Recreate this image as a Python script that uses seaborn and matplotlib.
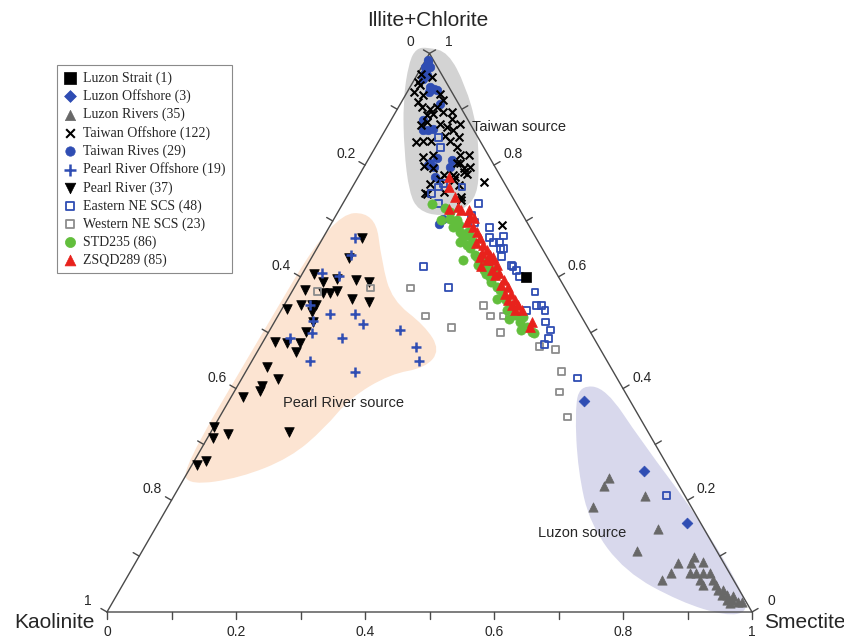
import numpy as np
import matplotlib
matplotlib.use("Agg")
import matplotlib.pyplot as plt
from matplotlib.path import Path
from matplotlib.patches import PathPatch
import seaborn as sns

# clay mineral compositions (fractions)
# s = smectite, ic = illite+chlorite, kaolinite = 1 - s - ic
luzon_strait_s = [0.35]
luzon_strait_ic = [0.60]

luzon_offshore_s = [0.551, 0.707, 0.820]
luzon_offshore_ic = [0.378, 0.252, 0.159]

luzon_rivers_s = [0.659, 0.658, 0.730, 0.660, 0.780, 0.767, 0.841, 0.860, 0.862, 0.879,
                  0.840, 0.831, 0.869, 0.879, 0.889, 0.900, 0.890, 0.910, 0.900, 0.920,
                  0.928, 0.936, 0.938, 0.947, 0.950, 0.958, 0.970, 0.958, 0.956, 0.976]
luzon_rivers_ic = [0.239, 0.225, 0.208, 0.188, 0.148, 0.110, 0.088, 0.099, 0.088, 0.089,
                   0.069, 0.058, 0.069, 0.069, 0.069, 0.069, 0.058, 0.058, 0.048, 0.048,
                   0.039, 0.039, 0.030, 0.030, 0.021, 0.021, 0.018, 0.017, 0.029, 0.018]

taiwan_offshore_s = [0.005, 0.008, 0.014, 0.025, 0.010, 0.028, 0.052, 0.063, 0.026, 0.036,
                     0.050, 0.059, 0.051, 0.060, 0.074, 0.087, 0.093, 0.110, 0.079, 0.093,
                     0.106, 0.097, 0.120, 0.110, 0.059, 0.068, 0.081, 0.052, 0.057, 0.083,
                     0.097, 0.126, 0.139, 0.152, 0.092, 0.141, 0.156, 0.165, 0.150, 0.165,
                     0.117, 0.163, 0.146, 0.178, 0.200, 0.121, 0.109, 0.131, 0.146, 0.159,
                     0.146, 0.118, 0.181, 0.267, 0.151, 0.128]
taiwan_offshore_ic = [0.964, 0.949, 0.943, 0.958, 0.931, 0.925, 0.928, 0.916, 0.913, 0.904,
                      0.901, 0.904, 0.889, 0.892, 0.895, 0.895, 0.883, 0.874, 0.874, 0.868,
                      0.862, 0.853, 0.850, 0.844, 0.841, 0.844, 0.844, 0.871, 0.877, 0.815,
                      0.818, 0.832, 0.818, 0.818, 0.798, 0.803, 0.794, 0.797, 0.779, 0.785,
                      0.767, 0.764, 0.752, 0.743, 0.770, 0.749, 0.794, 0.782, 0.782, 0.788,
                      0.803, 0.750, 0.737, 0.692, 0.773, 0.776]

taiwan_rives_s = [0.004, 0.006, 0.005, 0.013, 0.009, 0.016, 0.031, 0.038, 0.034, 0.044,
                  0.061, 0.050, 0.059, 0.067, 0.073, 0.105, 0.108, 0.130, 0.134, 0.119,
                  0.098, 0.169, 0.168, 0.099, 0.010, 0.012]
taiwan_rives_ic = [0.988, 0.984, 0.976, 0.976, 0.964, 0.961, 0.940, 0.937, 0.931, 0.934,
                   0.910, 0.880, 0.862, 0.862, 0.865, 0.812, 0.797, 0.809, 0.797, 0.779,
                   0.800, 0.703, 0.694, 0.803, 0.970, 0.955]

pearl_offshore_s = [0.049, 0.059, 0.030, 0.059, 0.040, 0.079, 0.117, 0.139, 0.069, 0.039,
                    0.120, 0.201, 0.242, 0.259, 0.090, 0.170, 0.059]
pearl_offshore_ic = [0.670, 0.640, 0.606, 0.601, 0.549, 0.534, 0.534, 0.515, 0.499, 0.490,
                     0.490, 0.505, 0.475, 0.450, 0.450, 0.430, 0.521]

pearl_river_s = [0.060, 0.058, 0.018, 0.039, 0.058, 0.088, 0.110, 0.018, 0.049, 0.060,
                 0.069, 0.099, 0.128, 0.008, 0.027, 0.043, 0.049, 0.050, 0.060, 0.058,
                 0.019, 0.038, 0.059, 0.060, 0.029, 0.057, 0.039, 0.039, 0.019, 0.000,
                 0.008, 0.029, 0.121, 0.019, 0.008]
pearl_river_ic = [0.670, 0.634, 0.605, 0.591, 0.597, 0.595, 0.591, 0.577, 0.571, 0.571,
                  0.574, 0.561, 0.555, 0.542, 0.549, 0.549, 0.550, 0.537, 0.519, 0.501,
                  0.484, 0.481, 0.481, 0.466, 0.439, 0.417, 0.404, 0.396, 0.385, 0.332,
                  0.312, 0.318, 0.323, 0.270, 0.264]

eastern_s = [0.089, 0.101, 0.138, 0.133, 0.170, 0.129, 0.210, 0.148, 0.210, 0.221,
             0.249, 0.258, 0.268, 0.278, 0.278, 0.284, 0.289, 0.294, 0.317, 0.330,
             0.340, 0.181, 0.239, 0.320, 0.377, 0.392, 0.399, 0.409, 0.380, 0.420,
             0.435, 0.439, 0.439, 0.520, 0.763]
eastern_ic = [0.850, 0.831, 0.767, 0.761, 0.761, 0.749, 0.731, 0.731, 0.710, 0.698,
              0.689, 0.671, 0.662, 0.662, 0.673, 0.651, 0.651, 0.636, 0.621, 0.611,
              0.600, 0.619, 0.581, 0.619, 0.573, 0.549, 0.549, 0.540, 0.540, 0.519,
              0.505, 0.490, 0.479, 0.419, 0.208]

western_s = [0.039, 0.119, 0.180, 0.229, 0.309, 0.329, 0.349, 0.280, 0.359, 0.433,
             0.460, 0.490, 0.504, 0.540]
western_ic = [0.574, 0.580, 0.580, 0.530, 0.549, 0.530, 0.530, 0.509, 0.501, 0.475,
              0.470, 0.430, 0.394, 0.349]

std235_s = [0.138, 0.168, 0.180, 0.192, 0.199, 0.207, 0.217, 0.216, 0.238, 0.237,
            0.255, 0.266, 0.280, 0.291, 0.303, 0.192, 0.174, 0.237, 0.278, 0.294,
            0.313, 0.332, 0.352, 0.367, 0.381, 0.396, 0.408, 0.381, 0.412, 0.226,
            0.265, 0.321, 0.340, 0.163, 0.230, 0.350, 0.360, 0.390, 0.325, 0.300,
            0.285, 0.250, 0.220]
std235_ic = [0.731, 0.701, 0.704, 0.689, 0.692, 0.680, 0.671, 0.662, 0.651, 0.662,
             0.636, 0.630, 0.618, 0.612, 0.603, 0.701, 0.716, 0.631, 0.612, 0.600,
             0.582, 0.564, 0.546, 0.531, 0.519, 0.510, 0.501, 0.528, 0.499, 0.674,
             0.621, 0.576, 0.558, 0.723, 0.657, 0.540, 0.525, 0.505, 0.560, 0.590,
             0.605, 0.640, 0.680]

zsqd289_s = [0.140, 0.149, 0.168, 0.170, 0.182, 0.190, 0.201, 0.209, 0.223, 0.233,
             0.244, 0.255, 0.265, 0.260, 0.275, 0.284, 0.274, 0.294, 0.271, 0.291,
             0.304, 0.318, 0.261, 0.281, 0.300, 0.319, 0.331, 0.332, 0.342, 0.343,
             0.354, 0.353, 0.363, 0.363, 0.373, 0.399, 0.401, 0.209, 0.242, 0.217]
zsqd289_ic = [0.779, 0.761, 0.743, 0.721, 0.725, 0.719, 0.719, 0.698, 0.689, 0.680,
              0.669, 0.657, 0.648, 0.642, 0.639, 0.630, 0.630, 0.621, 0.619, 0.612,
              0.606, 0.594, 0.636, 0.636, 0.603, 0.585, 0.582, 0.570, 0.570, 0.558,
              0.558, 0.549, 0.549, 0.540, 0.540, 0.519, 0.510, 0.708, 0.660, 0.705]

# outlines of the shaded source fields (same composition space)
taiwan_field_s = [-0.008, 0.028, 0.084, 0.138, 0.177, 0.201, 0.192, 0.162, 0.123, 0.093,
                  0.047, 0.001, -0.024, -0.025]
taiwan_field_ic = [1.011, 1.002, 0.943, 0.871, 0.800, 0.746, 0.719, 0.708, 0.719, 0.751,
                   0.827, 0.916, 0.984, 1.009]
pearl_field_s = [-0.006, 0.058, 0.113, 0.163, 0.236, 0.282, 0.275, 0.226, 0.185, 0.173,
                 0.146, 0.086, 0.015, -0.011, -0.009]
pearl_field_ic = [0.712, 0.716, 0.626, 0.558, 0.513, 0.469, 0.437, 0.426, 0.383, 0.329,
                  0.276, 0.240, 0.227, 0.254, 0.478]
luzon_field_s = [0.530, 0.573, 0.673, 0.837, 0.965, 0.994, 0.963, 0.880, 0.767, 0.671,
                 0.603, 0.545]
luzon_field_ic = [0.406, 0.401, 0.308, 0.165, 0.039, 0.000, -0.007, 0.018, 0.072, 0.156,
                  0.254, 0.361]

BLUE = "#2F4DB3"
H = np.sqrt(3) / 2


def tern_xy(s, ic):
    s = np.asarray(s, float)
    ic = np.asarray(ic, float)
    return s + ic / 2, ic * H


def field_patch(s, ic, color):
    x, y = tern_xy(s, ic)
    pts = np.column_stack([x, y])
    mids = (pts + np.roll(pts, -1, axis=0)) / 2
    verts = [mids[-1]]
    codes = [Path.MOVETO]
    for i in range(len(pts)):
        verts += [pts[i], mids[i]]
        codes += [Path.CURVE3, Path.CURVE3]
    verts.append(mids[-1])
    codes.append(Path.CLOSEPOLY)
    return PathPatch(Path(verts, codes), fc=color, ec="none", zorder=1)


sns.set_style("white")
plt.rcParams["font.family"] = ["Liberation Sans", "DejaVu Sans"]

fig = plt.figure(figsize=(8.44, 6.4), dpi=100)
ax = fig.add_axes([0, 0, 1, 1])
ax.set_xlim(-107 / 645, 737 / 645)
ax.set_ylim(-28 / 645, 612 / 645)
ax.axis("off")

ax.add_patch(field_patch(taiwan_field_s, taiwan_field_ic, "#D3D3D3"))
ax.add_patch(field_patch(pearl_field_s, pearl_field_ic, "#FCE4D2"))
ax.add_patch(field_patch(luzon_field_s, luzon_field_ic, "#D8D8EC"))

# triangle frame and ticks
edge = "#4a4a4a"
ax.plot([0, 1, 0.5, 0], [0, 0, H, 0], color=edge, lw=1, zorder=2)
L = 7 / 645
for v in np.round(np.arange(0, 1.01, 0.1), 1):
    ax.plot([v, v], [0, -L], color=edge, lw=1, zorder=2)
    x0, y0 = tern_xy(0, 1 - v)
    ax.plot([x0, x0 - L * H], [y0, y0 + L / 2], color=edge, lw=1, zorder=2)
    x0, y0 = tern_xy(1 - v, v)
    ax.plot([x0, x0 + L * H], [y0, y0 + L / 2], color=edge, lw=1, zorder=2)

d = 15.8
for v in np.round(np.arange(0, 1.01, 0.2), 1):
    lab = f"{v:g}"
    ax.annotate(lab, (v, 0), xytext=(0, -14.5), textcoords="offset points",
                ha="center", va="center", fontsize=10)
    ax.annotate(lab, tern_xy(0, 1 - v), xytext=(-d * H, d / 2), textcoords="offset points",
                ha="center", va="center", fontsize=10)
    ax.annotate(lab, tern_xy(1 - v, v), xytext=(d * H, d / 2), textcoords="offset points",
                ha="center", va="center", fontsize=10)

ax.text(0.5065, 0.9677, "Illite+Chlorite", transform=ax.transAxes, ha="center", va="center", fontsize=15)
ax.text(0.1126, 0.0266, "Kaolinite", transform=ax.transAxes, ha="right", va="center", fontsize=15)
ax.text(0.9052, 0.0266, "Smectite", transform=ax.transAxes, ha="left", va="center", fontsize=15)
ax.text(0.5592, 0.8016, "Taiwan source", transform=ax.transAxes, ha="left", va="center", fontsize=10.5)
ax.text(0.4068, 0.3698, "Pearl River source", transform=ax.transAxes, ha="center", va="center", fontsize=10.5)
ax.text(0.6892, 0.1667, "Luzon source", transform=ax.transAxes, ha="center", va="center", fontsize=10.5)

series = [
    ("Luzon Rivers (35)", luzon_rivers_s, luzon_rivers_ic,
     dict(marker="^", s=45, color="#686868", edgecolor="#686868", linewidth=0.5)),
    ("Luzon Offshore (3)", luzon_offshore_s, luzon_offshore_ic,
     dict(marker="D", s=30, color=BLUE, edgecolor=BLUE, linewidth=0.5)),
    ("Pearl River (37)", pearl_river_s, pearl_river_ic,
     dict(marker="v", s=48, color="black", edgecolor="black", linewidth=0.5)),
    ("Pearl River Offshore (19)", pearl_offshore_s, pearl_offshore_ic,
     dict(marker="+", s=60, color=BLUE, linewidth=1.8)),
    ("Taiwan Rives (29)", taiwan_rives_s, taiwan_rives_ic,
     dict(marker="o", s=38, color=BLUE, edgecolor=BLUE, linewidth=0.5)),
    ("Taiwan Offshore (122)", taiwan_offshore_s, taiwan_offshore_ic,
     dict(marker="x", s=32, color="black", linewidth=1.5)),
    ("Western NE SCS (23)", western_s, western_ic,
     dict(marker="s", s=24, facecolors="none", edgecolor="#8C8C8C", linewidth=1.3)),
    ("Eastern NE SCS (48)", eastern_s, eastern_ic,
     dict(marker="s", s=24, facecolors="none", edgecolor=BLUE, linewidth=1.3)),
    ("STD235 (86)", std235_s, std235_ic,
     dict(marker="o", s=44, color="#62BE3C", edgecolor="#62BE3C", linewidth=0.5)),
    ("ZSQD289 (85)", zsqd289_s, zsqd289_ic,
     dict(marker="^", s=50, color="#E8221C", edgecolor="#E8221C", linewidth=0.5)),
    ("Luzon Strait (1)", luzon_strait_s, luzon_strait_ic,
     dict(marker="s", s=55, color="black", edgecolor="black", linewidth=0.5)),
]

for z, (name, s_vals, ic_vals, style) in enumerate(series):
    x, y = tern_xy(s_vals, ic_vals)
    sns.scatterplot(x=x, y=y, ax=ax, label=name, legend=False, zorder=3 + z, **style)

order = ["Luzon Strait (1)", "Luzon Offshore (3)", "Luzon Rivers (35)", "Taiwan Offshore (122)",
         "Taiwan Rives (29)", "Pearl River Offshore (19)", "Pearl River (37)",
         "Eastern NE SCS (48)", "Western NE SCS (23)", "STD235 (86)", "ZSQD289 (85)"]
handles, labels = ax.get_legend_handles_labels()
lookup = dict(zip(labels, handles))
leg = ax.legend([lookup[k] for k in order], order, loc="upper left",
                bbox_to_anchor=(57 / 844, 1 - 65 / 640), borderaxespad=0,
                frameon=True, fancybox=False, framealpha=1, edgecolor="#8a8a8a",
                prop={"family": "Liberation Serif", "size": 10},
                handletextpad=0.45, labelspacing=0.33, borderpad=0.45,
                handlelength=1.0, scatterpoints=1, markerscale=1.1)
leg.get_frame().set_linewidth(0.8)
leg.set_zorder(20)

fig.savefig("out.png", dpi=100)
